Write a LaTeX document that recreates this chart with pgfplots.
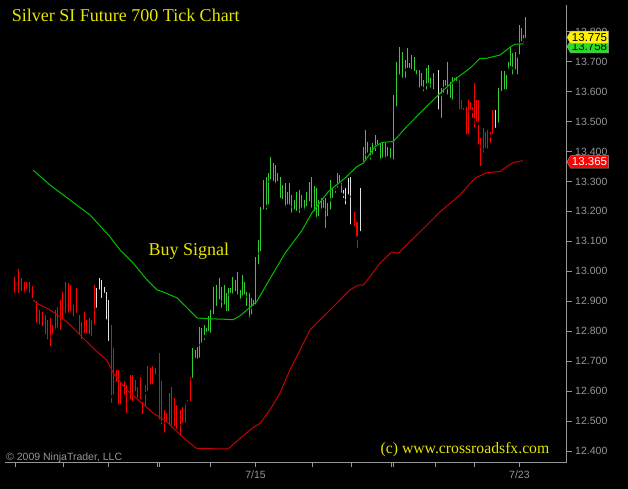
\documentclass[border=0pt]{standalone}
\usepackage{pgfplots}
\pgfplotsset{compat=1.18}
\usepackage{pgfplotstable}
\usepackage{fontspec}
\setmainfont{Liberation Serif}
\newfontfamily\arialf{Liberation Sans}
\usetikzlibrary{shapes.symbols}

\definecolor{barred}{RGB}{255,0,0}
\definecolor{bargreen}{RGB}{50,205,50}
\definecolor{barwhite}{RGB}{225,225,225}
\definecolor{magreen}{RGB}{0,190,0}
\definecolor{mared}{RGB}{200,0,0}
\definecolor{axgray}{RGB}{150,150,150}
\definecolor{txtyellow}{RGB}{230,230,0}
\definecolor{lblgreen}{RGB}{40,220,40}

\pgfplotstableread{
x hi lo
15.0 12.982 12.921
18.3 13.007 12.921
21.7 12.977 12.927
24.0 12.965 12.921
26.7 12.965 12.932
29.3 12.965 12.921
32.3 12.951 12.904
36.7 12.899 12.821
39.3 12.871 12.815
42.3 12.865 12.810
45.0 12.854 12.782
47.3 12.838 12.765
50.0 12.843 12.743
52.7 12.821 12.782
55.0 12.871 12.793
57.3 12.882 12.804
60.0 12.904 12.798
62.7 12.932 12.832
65.0 12.965 12.854
68.3 12.960 12.854
70.7 12.954 12.860
73.3 12.888 12.843
76.0 12.943 12.854
79.3 12.854 12.782
81.7 12.832 12.765
84.0 12.865 12.787
86.7 12.838 12.787
89.3 12.843 12.782
91.7 12.838 12.776
94.0 12.954 12.815
111.0 12.821 12.554
113.3 12.743 12.581
116.0 12.671 12.626
118.3 12.671 12.548
120.7 12.626 12.548
124.0 12.632 12.581
126.7 12.621 12.520
130.0 12.654 12.565
132.7 12.654 12.559
135.0 12.637 12.593
137.3 12.615 12.570
140.0 12.648 12.565
142.7 12.565 12.515
145.0 12.621 12.543
147.3 12.682 12.593
150.0 12.676 12.615
152.7 12.682 12.615
155.0 12.676 12.648
159.3 12.726 12.498
161.7 12.632 12.481
164.0 12.537 12.454
166.7 12.526 12.493
169.3 12.593 12.481
171.7 12.615 12.470
174.0 12.576 12.476
176.7 12.554 12.465
180.0 12.537 12.443
182.7 12.548 12.487
185.0 12.565 12.487
187.3 12.570 12.559
190.0 12.648 12.559
354.0 13.199 13.144
356.0 13.166 13.110
357.7 13.166 13.071
459.0 13.639 13.533
461.0 13.572 13.533
463.3 13.545 13.532
466.0 13.550 13.450
468.3 13.572 13.450
470.7 13.566 13.533
472.7 13.550 13.505
474.3 13.628 13.472
476.7 13.572 13.494
478.3 13.572 13.416
480.7 13.444 13.344
483.3 13.478 13.389
485.7 13.466 13.405
487.7 13.472 13.400
490.0 13.466 13.422
492.3 13.539 13.452
}\redbars

\pgfplotstableread{
x hi lo
96.7 12.943 12.871
99.0 12.977 12.932
101.7 12.971 12.904
104.0 12.949 12.921
106.0 12.932 12.832
108.7 12.904 12.760
343.3 13.272 13.238
345.7 13.277 13.216
348.3 13.311 13.249
350.7 13.316 13.149
360.0 13.277 13.127
438.3 13.672 13.533
495.0 13.539 13.472
}\whitebars

\pgfplotstableread{
x hi lo
192.7 12.743 12.637
195.0 12.737 12.704
197.3 12.748 12.698
199.3 12.815 12.704
201.7 12.811 12.754
204.0 12.821 12.764
206.0 12.811 12.781
208.3 12.849 12.793
210.7 12.871 12.787
213.3 12.949 12.849
216.7 12.954 12.877
219.3 12.977 12.899
221.7 12.949 12.871
224.0 12.954 12.882
226.0 12.927 12.860
228.3 12.943 12.860
230.7 12.943 12.921
232.7 12.982 12.915
235.0 12.971 12.927
237.3 12.999 12.915
240.0 12.938 12.893
242.3 12.988 12.904
244.3 12.965 12.915
246.7 12.932 12.877
249.0 12.927 12.838
251.7 12.910 12.849
253.5 12.904 12.877
255.7 13.049 12.882
258.3 13.105 13.016
260.7 13.216 13.060
263.3 13.305 13.199
266.0 13.316 13.199
268.3 13.327 13.216
270.7 13.383 13.299
273.3 13.361 13.294
275.7 13.355 13.283
277.7 13.327 13.294
280.0 13.316 13.238
282.3 13.288 13.233
285.0 13.294 13.205
287.3 13.266 13.216
289.3 13.294 13.216
291.7 13.255 13.188
294.0 13.238 13.199
296.3 13.266 13.194
299.0 13.272 13.188
301.7 13.255 13.205
304.0 13.238 13.199
306.7 13.266 13.210
309.0 13.299 13.227
311.7 13.316 13.205
314.0 13.283 13.194
316.0 13.277 13.166
318.3 13.238 13.177
321.0 13.244 13.194
323.3 13.238 13.205
325.0 13.244 13.138
327.7 13.227 13.177
330.0 13.305 13.199
332.3 13.277 13.238
335.0 13.277 13.255
337.3 13.327 13.272
339.3 13.322 13.288
341.7 13.294 13.255
363.3 13.416 13.355
365.7 13.472 13.366
367.7 13.433 13.389
370.0 13.416 13.366
372.3 13.428 13.383
375.0 13.455 13.394
377.3 13.439 13.416
380.0 13.428 13.361
382.3 13.433 13.372
385.0 13.428 13.366
387.3 13.416 13.377
390.0 13.411 13.372
393.3 13.589 13.366
396.7 13.700 13.544
399.0 13.750 13.650
402.3 13.733 13.639
405.0 13.706 13.639
407.3 13.745 13.672
409.3 13.695 13.672
411.7 13.722 13.667
414.0 13.717 13.661
416.7 13.672 13.650
419.3 13.672 13.606
421.7 13.661 13.611
423.3 13.639 13.594
426.0 13.678 13.600
428.3 13.689 13.622
430.7 13.645 13.606
433.3 13.661 13.600
441.0 13.611 13.505
443.3 13.639 13.589
445.5 13.639 13.612
447.7 13.700 13.583
450.0 13.633 13.572
452.3 13.650 13.566
454.3 13.646 13.629
456.7 13.650 13.628
498.3 13.611 13.489
501.7 13.667 13.594
504.0 13.667 13.600
506.0 13.656 13.600
508.3 13.700 13.667
510.7 13.750 13.678
512.7 13.728 13.650
515.0 13.733 13.667
517.3 13.717 13.650
519.3 13.823 13.717
521.7 13.812 13.761
523.3 13.789 13.749
525.0 13.850 13.772
}\greenbars

\pgfplotstableread{
x y
33 13.338
50 13.288
70 13.238
90 13.188
110 13.115
120 13.071
133 13.028
147 12.971
157 12.938
163 12.931
177 12.911
187 12.878
197 12.844
210 12.841
223 12.840
233 12.838
240 12.851
256.7 12.899
270 12.975
285 13.060
301.7 13.135
311.7 13.194
328.3 13.266
345 13.311
356.7 13.349
363.3 13.361
375 13.416
381.7 13.430
393.3 13.433
406.7 13.483
423.3 13.539
440 13.594
456.7 13.645
470 13.678
480 13.711
486.7 13.711
500 13.722
510 13.748
515 13.758
523 13.759
}\greenma

\pgfplotstableread{
x y
33 12.904
36.7 12.893
50 12.871
66.7 12.832
83.3 12.776
96.7 12.732
106.7 12.704
113.3 12.660
126.7 12.604
140 12.565
153.3 12.526
166.7 12.498
180 12.454
190 12.426
196.2 12.409
216.3 12.407
228.3 12.407
240.3 12.443
252.3 12.476
260.3 12.493
270 12.537
280 12.593
290 12.671
300 12.737
310 12.804
316.7 12.827
325 12.854
336.7 12.893
350 12.938
358.3 12.954
363.3 12.954
370 12.982
380 13.027
391.7 13.064
398.3 13.060
410 13.099
420 13.131
440 13.198
460 13.255
475 13.311
486.7 13.329
500 13.333
506.7 13.349
513.3 13.363
523 13.369
}\redma

\begin{document}
\begin{tikzpicture}[x=1pt,y=1pt]
\fill[black] (-5,-27) rectangle (623,462);
\begin{axis}[
  at={(0,0)}, anchor=south west,
  scale only axis, width=561.7pt, height=457pt,
  xmin=5, xmax=566.7, ymin=12.363, ymax=13.889,
  axis x line=bottom, axis y line=right,
  axis line style={axgray, line width=0.8pt, -},
  x axis line style={-}, y axis line style={-},
  tick style={axgray, line width=0.8pt},
  tick align=outside, major tick length=5pt,
  xtick={15.2,63.3,108.1,157.4,159.0,210.3,255.5,312.4,351.6,391.7,393.3,435.3,474.6,519.4},
  xticklabels={{},{},{},{},{},{},7/15,{},{},{},{},{},{},7/23},
  ytick={12.4,12.5,12.6,12.7,12.8,12.9,13.0,13.1,13.2,13.3,13.4,13.5,13.6,13.7,13.8},
  ticklabel style={font=\arialf\fontsize{10.5}{12}\selectfont, text=axgray},
  yticklabel style={/pgf/number format/.cd, fixed, fixed zerofill, precision=3, 1000 sep={}, assume math mode=true},
  clip mode=individual,
]
\addplot[only marks, mark=none, forget plot,
  error bars/.cd, y dir=plus, y explicit, error mark=none,
  error bar style={draw=barred, line width=1pt}]
  table[x=x, y=lo, y error expr=\thisrow{hi}-\thisrow{lo}] {\redbars};
\addplot[only marks, mark=none, forget plot,
  error bars/.cd, y dir=plus, y explicit, error mark=none,
  error bar style={draw=barwhite, line width=1pt}]
  table[x=x, y=lo, y error expr=\thisrow{hi}-\thisrow{lo}] {\whitebars};
\addplot[only marks, mark=none, forget plot,
  error bars/.cd, y dir=plus, y explicit, error mark=none,
  error bar style={draw=bargreen, line width=1pt}]
  table[x=x, y=lo, y error expr=\thisrow{hi}-\thisrow{lo}] {\greenbars};
\addplot[magreen, line width=1pt, mark=none] table[x=x, y=y] {\greenma};
\addplot[mared, line width=1pt, mark=none] table[x=x, y=y] {\redma};

\node[signal, signal to=west, signal pointer angle=120, fill=lblgreen, draw=axgray,
  anchor=west, inner sep=1pt, minimum height=12.5pt, text width=36pt, align=center,
  font=\arialf\fontsize{11.5}{12}\selectfont, text=black]
  at (axis cs:566.7,13.750) {13.758};
\node[signal, signal to=west, signal pointer angle=120, fill=yellow, draw=axgray,
  anchor=west, inner sep=1pt, minimum height=12.5pt, text width=36pt, align=center,
  font=\arialf\fontsize{11.5}{12}\selectfont, text=black]
  at (axis cs:566.7,13.781) {13.775};
\node[signal, signal to=west, signal pointer angle=120, fill=red, draw=axgray,
  anchor=west, inner sep=1pt, minimum height=12.5pt, text width=36pt, align=center,
  font=\arialf\fontsize{11.5}{12}\selectfont, text=white]
  at (axis cs:566.7,13.365) {13.365};
\end{axis}
\node[anchor=base west, inner sep=0pt, text=txtyellow, font=\fontsize{18}{20}\selectfont] at (6.7,440.3) {Silver SI Future 700 Tick Chart};
\node[anchor=base west, inner sep=0pt, text=txtyellow, font=\fontsize{18}{20}\selectfont] at (143.3,206) {Buy Signal};
\node[anchor=base west, inner sep=0pt, text=txtyellow, font=\fontsize{15.7}{18}\selectfont] at (375.5,8) {(c) www.crossroadsfx.com};
\node[anchor=base west, inner sep=0pt, text=axgray, font=\arialf\fontsize{10.5}{12}\selectfont] at (1,1.5) {\textcopyright{} 2009 NinjaTrader, LLC};
\end{tikzpicture}
\end{document}
